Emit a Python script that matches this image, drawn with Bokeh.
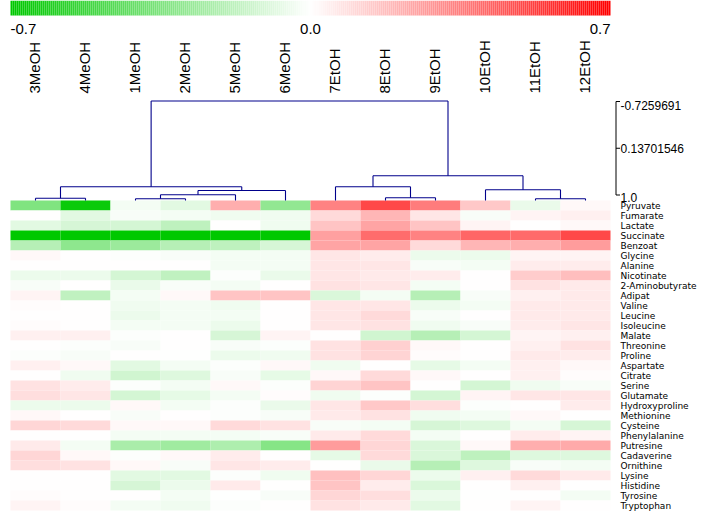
import numpy as np
from bokeh.plotting import figure
from bokeh.models import Range1d, ColumnDataSource
from bokeh.transform import linear_cmap
from bokeh.core.properties import value
from bokeh.embed import file_html
from bokeh.resources import INLINE

# ---------------- data ----------------
columns = ["3MeOH", "4MeOH", "1MeOH", "2MeOH", "5MeOH", "6MeOH",
           "7EtOH", "8EtOH", "9EtOH", "10EtOH", "11EtOH", "12EtOH"]
rows = ["Pyruvate", "Fumarate", "Lactate", "Succinate", "Benzoat", "Glycine", "Alanine",
        "Nicotinate", "2-Aminobutyrate", "Adipat", "Valine", "Leucine", "Isoleucine",
        "Malate", "Threonine", "Proline", "Aspartate", "Citrate", "Serine", "Glutamate",
        "Hydroxyproline", "Methionine", "Cysteine", "Phenylalanine", "Putresine",
        "Cadaverine", "Ornithine", "Lysine", "Histidine", "Tyrosine", "Tryptophan"]

v_3MeOH = [-0.35, 0.00, -0.08, -0.75, -0.20, 0.02, 0.0, -0.05, -0.02, 0.03, 0.01, 0.0, 0.01, 0.04, 0.005, -0.01,
           0.04, 0.005, 0.08, 0.09, -0.05, 0.02, 0.11, 0.0, 0.06, 0.11, 0.09, 0.005, 0.005, 0.01, 0.03]
v_4MeOH = [-0.67, -0.08, -0.11, -0.75, -0.31, 0.005, 0.005, -0.05, 0.0, -0.17, 0.0, 0.0, 0.005, 0.04, -0.01, -0.02,
           0.02, -0.04, 0.05, 0.07, -0.05, 0.005, 0.10, 0.005, -0.03, 0.02, 0.08, 0.005, 0.005, 0.005, 0.01]
v_1MeOH = [-0.03, -0.02, -0.12, -0.75, -0.27, -0.01, 0.0, -0.12, -0.06, -0.03, -0.04, -0.05, -0.03, -0.01, -0.02, 0.0,
           -0.08, -0.13, -0.01, -0.12, 0.02, -0.02, 0.02, -0.03, -0.23, -0.01, 0.02, -0.08, -0.11, 0.0, -0.03]
v_2MeOH = [-0.08, -0.03, -0.18, -0.75, -0.20, -0.02, 0.0, -0.17, -0.02, 0.02, -0.03, -0.03, -0.03, 0.0, 0.0, -0.005,
           -0.03, -0.09, -0.03, -0.07, -0.03, 0.0, 0.02, -0.03, -0.26, 0.02, -0.02, -0.08, -0.05, -0.03, -0.04]
v_5MeOH = [0.22, -0.04, 0.0, -0.75, -0.18, -0.03, -0.03, -0.01, -0.03, 0.16, -0.04, -0.03, -0.05, -0.11, -0.02, -0.05,
           -0.01, -0.02, 0.02, -0.03, -0.01, -0.01, 0.10, -0.03, -0.22, 0.05, 0.07, -0.01, 0.06, -0.005, -0.01]
v_6MeOH = [-0.30, -0.04, -0.04, -0.75, -0.11, -0.03, -0.03, -0.06, 0.0, 0.16, 0.005, 0.005, 0.0, 0.03, -0.01, -0.04,
           0.02, -0.07, -0.01, 0.01, -0.06, -0.02, 0.08, -0.02, -0.33, 0.005, 0.05, -0.04, 0.0, -0.02, 0.0]
v_7EtOH = [0.34, 0.10, 0.16, 0.26, 0.25, 0.07, 0.07, 0.07, 0.08, -0.10, 0.07, 0.07, 0.07, 0.0, 0.08, 0.08,
           -0.04, 0.02, 0.12, -0.04, 0.07, 0.06, -0.02, 0.06, 0.27, -0.07, 0.005, 0.17, 0.16, 0.11, 0.08]
v_8EtOH = [0.50, 0.20, 0.25, 0.40, 0.25, 0.05, 0.07, 0.06, 0.07, -0.03, 0.07, 0.10, 0.08, -0.13, 0.13, 0.12,
           0.005, 0.10, 0.16, -0.01, 0.15, 0.08, -0.03, 0.10, 0.11, 0.10, -0.06, 0.11, 0.05, 0.09, 0.06]
v_9EtOH = [0.36, 0.07, 0.16, 0.34, 0.10, -0.05, -0.02, 0.05, -0.03, -0.20, -0.05, -0.02, -0.04, -0.20, 0.02, 0.01,
           -0.07, 0.02, 0.0, -0.12, 0.09, -0.04, -0.11, -0.03, -0.10, -0.10, -0.20, -0.05, -0.10, -0.05, -0.08]
v_10EtOH = [0.15, -0.02, 0.03, 0.42, 0.20, -0.05, -0.03, 0.005, 0.005, -0.02, -0.03, 0.0, -0.02, -0.12, 0.0, 0.0,
            -0.03, 0.005, -0.12, 0.03, -0.01, -0.03, -0.09, 0.005, 0.02, -0.18, -0.09, 0.04, 0.005, -0.005, 0.005]
v_11EtOH = [-0.06, 0.03, 0.005, 0.41, 0.22, 0.03, 0.05, 0.14, 0.08, 0.04, 0.06, 0.06, 0.05, 0.03, 0.04, 0.06,
            0.04, 0.04, -0.04, 0.07, 0.0, 0.02, -0.03, 0.05, 0.22, -0.09, -0.02, 0.10, 0.04, 0.005, 0.03]
v_12EtOH = [0.02, 0.04, 0.02, 0.50, 0.27, 0.03, 0.05, 0.18, 0.06, 0.06, 0.06, 0.06, 0.07, 0.04, 0.08, 0.05,
            0.02, 0.01, -0.02, 0.07, 0.05, 0.0, -0.11, 0.03, 0.23, -0.09, -0.03, 0.06, 0.0, -0.03, 0.0]
col_values = [v_3MeOH, v_4MeOH, v_1MeOH, v_2MeOH, v_5MeOH, v_6MeOH,
              v_7EtOH, v_8EtOH, v_9EtOH, v_10EtOH, v_11EtOH, v_12EtOH]

# dendrogram merges: (left node, right node, height); leaves 0..11 in display order, merges numbered from 12
merges = [
    (0, 1, 0.988),      # 12: 3MeOH + 4MeOH
    (2, 3, 0.996),      # 13: 1MeOH + 2MeOH
    (13, 4, 0.926),     # 14: + 5MeOH
    (14, 5, 0.850),     # 15: + 6MeOH
    (12, 15, 0.785),    # 16: MeOH cluster
    (7, 8, 0.979),      # 17: 8EtOH + 9EtOH
    (6, 17, 0.785),     # 18: + 7EtOH
    (10, 11, 0.996),    # 19: 11EtOH + 12EtOH
    (9, 19, 0.838),     # 20: + 10EtOH
    (18, 20, 0.591),    # 21: EtOH cluster
    (16, 21, -0.7259691),  # 22: root
]
scale_ticks = [-0.7259691, 0.13701546, 1.0]
scale_labels = ["-0.7259691", "0.13701546", "1.0"]
cbar_low, cbar_high = -0.7, 0.7
cbar_tick_labels = ["-0.7", "0.0", "0.7"]

# ---------------- layout helpers (pixel geometry) ----------------
W, H = 712, 514
PAGE_OFF = 0
COL_W, ROW_H = 50, 10
HEAT_LEFT, HEAT_TOP = 10, 200


def yrange_from(v_a, page_a, v_b, page_b):
    py_a, py_b = page_a - PAGE_OFF, page_b - PAGE_OFF
    slope = (v_b - v_a) / (py_b - py_a)
    return Range1d(start=v_a + (H - py_a) * slope, end=v_a + (0 - py_a) * slope)


x0 = -(HEAT_LEFT - PAGE_OFF) / COL_W
y0 = -(HEAT_TOP - PAGE_OFF) / ROW_H

p = figure(width=W, height=H, output_backend="svg", toolbar_location=None,
           x_range=Range1d(x0, x0 + W / COL_W), y_range=Range1d(y0 + H / ROW_H, y0),
           x_axis_location=None, y_axis_location=None, min_border=0,
           background_fill_color="white", border_fill_color="white")
p.outline_line_color = None
p.grid.visible = False
p.extra_y_ranges = {
    "dend": yrange_from(-0.7259691, 100.5, 1.0, 198.5),
    "scale": yrange_from(-0.7259691, 101.0, 1.0, 194.5),
}

# palette green -> white -> red
palette = []
for i in range(256):
    t = i / 255
    if t < 0.5:
        s = t / 0.5
        r, g, b = 255 * s, 200 + 55 * s, 255 * s
    else:
        s = (t - 0.5) / 0.5
        r, g, b = 255, 255 * (1 - s), 255 * (1 - s)
    palette.append("#%02x%02x%02x" % (int(round(r)), int(round(g)), int(round(b))))

# ---------------- heatmap ----------------
xs, ys, vals = [], [], []
for ci, colv in enumerate(col_values):
    for ri, v in enumerate(colv):
        xs.append(ci)
        ys.append(ri)
        vals.append(v)
xs = np.array(xs, dtype=float)
ys = np.array(ys, dtype=float)
heat = ColumnDataSource(dict(left=xs, right=xs + 1, top=ys, bottom=ys + 1, v=vals))
cmap = linear_cmap("v", palette, cbar_low, cbar_high)
p.quad(left="left", right="right", top="top", bottom="bottom", source=heat,
       fill_color=cmap, line_color=None)

# row labels
p.text(x=[len(columns) + 0.2] * len(rows), y=[r + 0.5 for r in range(len(rows))], text=rows,
       text_font=value("DejaVu Sans"), text_font_size="9px", text_align="left",
       text_baseline="middle", text_color="black")

# column labels (rotated)
p.text(x=[i + 0.47 for i in range(len(columns))], y=[(93 - HEAT_TOP) / ROW_H] * len(columns),
       text=columns, angle=np.pi / 2, text_font=value("Liberation Sans"), text_font_size="15px",
       text_align="left", text_baseline="middle", text_color="black")

# ---------------- colour bar ----------------
n_steps = 300
edges = np.linspace(0, len(columns), n_steps + 1)
cb_vals = np.linspace(cbar_low, cbar_high, n_steps)
cb_top = (0 - HEAT_TOP) / ROW_H
cbar = ColumnDataSource(dict(left=edges[:-1], right=edges[1:], v=cb_vals))
p.quad(left="left", right="right", top=cb_top, bottom=cb_top + 1.5, source=cbar,
       fill_color=linear_cmap("v", palette, cbar_low, cbar_high), line_color=None)
lab_y = (28.5 - HEAT_TOP) / ROW_H
p.text(x=[0], y=[lab_y], text=[cbar_tick_labels[0]], text_align="left", text_baseline="middle",
       text_font=value("Liberation Sans"), text_font_size="15px", text_color="black")
p.text(x=[len(columns) / 2], y=[lab_y], text=[cbar_tick_labels[1]], text_align="center",
       text_baseline="middle", text_font=value("Liberation Sans"), text_font_size="15px",
       text_color="black")
p.text(x=[len(columns)], y=[lab_y], text=[cbar_tick_labels[2]], text_align="right",
       text_baseline="middle", text_font=value("Liberation Sans"), text_font_size="15px",
       text_color="black")

# ---------------- dendrogram ----------------
rd = p.extra_y_ranges["dend"]
leaf_h = rd.end + (HEAT_TOP - PAGE_OFF) * (rd.start - rd.end) / H  # height at heatmap top edge

node_x = {i: i + 0.5 for i in range(len(columns))}
node_h = {i: leaf_h for i in range(len(columns))}
sx0, sy0, sx1, sy1 = [], [], [], []
for k, (a, b, h) in enumerate(merges):
    nid = len(columns) + k
    for c in (a, b):
        sx0.append(node_x[c]); sy0.append(node_h[c]); sx1.append(node_x[c]); sy1.append(h)
    sx0.append(node_x[a]); sy0.append(h); sx1.append(node_x[b]); sy1.append(h)
    node_x[nid] = (node_x[a] + node_x[b]) / 2
    node_h[nid] = h
p.segment(x0=sx0, y0=sy0, x1=sx1, y1=sy1, y_range_name="dend", line_color="#00008b",
          line_width=1.1)

# dendrogram scale bar
bar_x = (615.5 - HEAT_LEFT) / COL_W
tick_len = 4 / COL_W
p.segment(x0=[bar_x], y0=[scale_ticks[0]], x1=[bar_x], y1=[scale_ticks[-1]],
          y_range_name="scale", line_color="black", line_width=1)
p.segment(x0=[bar_x] * 3, y0=scale_ticks, x1=[bar_x + tick_len] * 3, y1=scale_ticks,
          y_range_name="scale", line_color="black", line_width=1)
p.text(x=[(620 - HEAT_LEFT) / COL_W] * 3, y=scale_ticks, text=scale_labels,
       y_offset=[4, 0, 2], y_range_name="scale", text_align="left", text_baseline="middle",
       text_font=value("Liberation Sans"), text_font_size="12px", text_color="black")

open("out.html", "w").write(file_html(p, INLINE))
